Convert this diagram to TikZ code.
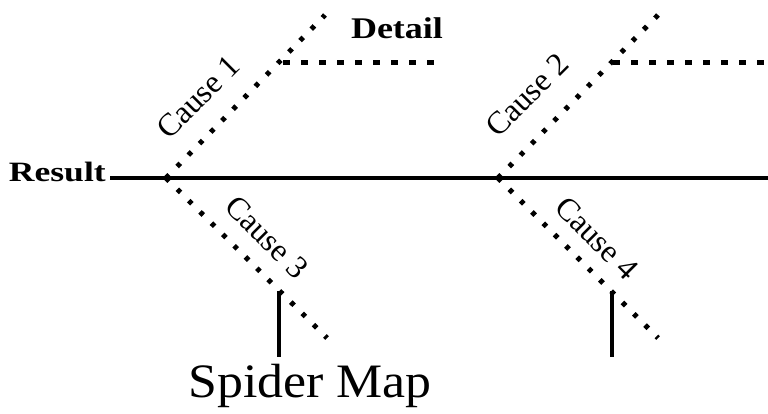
\documentclass[tikz,border=0pt]{standalone}
\usepackage{fontspec}
\setmainfont{Liberation Serif}
\begin{document}
\begin{tikzpicture}[x=1pt,y=-1pt,
  mainline/.style={line width=4pt},
  diagdots/.style={line width=5pt, dash pattern=on 4.5pt off 11.5pt},
  hdots/.style={line width=5pt, dash pattern=on 7pt off 11pt},
  stem/.style={line width=4pt},
  causelbl/.style={font=\fontsize{32}{32}\selectfont, inner sep=0pt},
  boldlbl/.style={inner sep=0pt}]
\useasboundingbox (0,0) rectangle (768,413);
% key points
\coordinate (j1) at (166,178);
\coordinate (j2) at (498,178);
\coordinate (mainstart) at (110,178);
\coordinate (mainend) at (768,178);
\coordinate (t1) at (325,15);
\coordinate (t2) at (658,15);
\coordinate (d1) at (283,62);
\coordinate (d1e) at (445,62);
\coordinate (d2) at (613,62);
\coordinate (d2e) at (768,62);
\coordinate (b1) at (327,338);
\coordinate (b2) at (658,338);
\coordinate (s1) at (279,291);
\coordinate (s1e) at (279,357);
\coordinate (s2) at (612,291);
\coordinate (s2e) at (612,357);
% texts
\node[boldlbl, anchor=base east, font=\bfseries\fontsize{28}{28}\selectfont, xscale=1.27] (result) at (106,181) {Result};
\node[boldlbl, anchor=base, font=\bfseries\fontsize{30}{30}\selectfont, xscale=1.2] (detail) at (397,38) {Detail};
\node[causelbl, rotate=45] (c1) at (198,97) {Cause 1};
\node[causelbl, rotate=45] (c2) at (527,95) {Cause 2};
\node[causelbl, rotate=-45] (c3) at (267,237) {Cause 3};
\node[causelbl, rotate=-45] (c4) at (597,238) {Cause 4};
\node[inner sep=0pt, anchor=base, font=\fontsize{48}{48}\selectfont, xscale=1.08] (title) at (310,397) {Spider Map};
% lines
\draw[mainline] (mainstart) -- (mainend);
\draw[diagdots] (j1) -- (t1);
\draw[diagdots] (j2) -- (t2);
\draw[diagdots] (j1) -- (b1);
\draw[diagdots] (j2) -- (b2);
\draw[hdots] (d1) -- (d1e);
\draw[hdots] (d2) -- (d2e);
\draw[stem] (s1) -- (s1e);
\draw[stem] (s2) -- (s2e);
\end{tikzpicture}
\end{document}
